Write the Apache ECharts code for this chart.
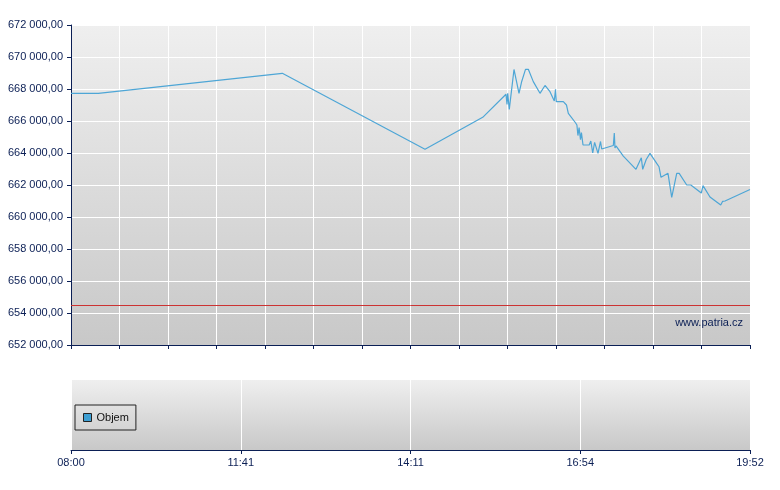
<!DOCTYPE html>
<html>
<head>
<meta charset="utf-8">
<script src="https://cdn.jsdelivr.net/npm/echarts@6/dist/echarts.min.js"></script>
<style>html,body{margin:0;padding:0;background:#fff}#c{width:780px;height:490px}</style>
</head>
<body>
<div id="c"></div>
<script>
// x positions in grid-interval units (0..14), y values of the index
var xPos = [0, 0.563, 4.357, 7.299, 8.489, 8.969, 8.990, 9.004, 9.037, 9.134, 9.237, 9.293, 9.371, 9.429, 9.532, 9.670, 9.773, 9.876, 9.965, 9.990, 10.006, 10.151, 10.186, 10.216, 10.254, 10.402, 10.431, 10.452, 10.476, 10.505, 10.524, 10.557, 10.684, 10.718, 10.757, 10.796, 10.866, 10.918, 10.942, 11.182, 11.202, 11.216, 11.237, 11.388, 11.649, 11.759, 11.788, 11.860, 11.938, 12.087, 12.124, 12.165, 12.309, 12.386, 12.489, 12.540, 12.695, 12.780, 12.996, 13.031, 13.175, 13.396, 13.437, 13.485, 14];
var values = [667730, 667730, 668980, 664230, 666230, 667670, 667040, 667730, 666730, 669220, 667730, 668470, 669230, 669230, 668460, 667730, 668220, 667830, 667250, 667980, 667210, 667210, 667250, 667000, 666480, 665890, 665750, 665090, 665590, 664840, 665280, 664500, 664500, 664750, 664000, 664660, 663980, 664720, 664250, 664470, 665250, 664310, 664440, 663810, 662980, 663700, 662980, 663590, 663980, 663300, 663140, 662480, 662730, 661230, 662730, 662730, 662000, 662000, 661500, 661960, 661250, 660750, 660980, 661000, 661720];
var referenceLevel = 654500;
var timeLabels = ["08:00", "11:41", "14:11", "16:54", "19:52"];
var volumeName = "Objem";
var volumeValues = [];
var watermark = "www.patria.cz";

var navy = '#0b1f55';
var font = 'Arial, "Liberation Sans", sans-serif';
function bg() {
  return new echarts.graphic.LinearGradient(0, 0, 0, 1, [
    {offset: 0, color: '#efefef'}, {offset: 1, color: '#c8c8c8'}
  ]);
}
function fmt(v) {
  var s = String(Math.round(v));
  return s.replace(/\B(?=(\d{3})+(?!\d))/g, ' ') + ',00';
}
var lineData = xPos.map(function (x, i) { return [x, values[i]]; });

var chart = echarts.init(document.getElementById('c'), null, {renderer: 'canvas'});
chart.setOption({
  animation: false,
  textStyle: {fontFamily: font},
  grid: [
    {left: 71, right: 30, top: 25, height: 320, show: true, borderWidth: 0, backgroundColor: bg()},
    {left: 71, right: 30, top: 380, height: 70, show: true, borderWidth: 0, backgroundColor: bg()}
  ],
  legend: {
    data: [volumeName],
    left: 75, top: 405,
    orient: 'vertical',
    padding: [7, 7, 7, 8],
    borderColor: '#222', borderWidth: 1, borderRadius: 0,
    icon: 'rect', itemWidth: 8, itemHeight: 8,
    itemStyle: {borderColor: '#222', borderWidth: 1},
    textStyle: {color: '#111', fontSize: 11, fontFamily: font},
    selectedMode: false
  },
  xAxis: [
    {gridIndex: 0, type: 'value', min: 0, max: 14, interval: 1,
     axisLine: {show: true, onZero: false, lineStyle: {color: navy, width: 1}},
     axisTick: {show: true, length: 4, lineStyle: {color: navy}},
     axisLabel: {show: false},
     splitLine: {show: true, lineStyle: {color: '#ffffff', width: 1}}},
    {gridIndex: 1, type: 'value', min: 0, max: 4, interval: 1,
     axisLine: {show: true, onZero: false, lineStyle: {color: navy, width: 1}},
     axisTick: {show: true, length: 4, lineStyle: {color: navy}},
     axisLabel: {color: navy, fontSize: 11, fontFamily: font, margin: 7,
                 formatter: function (v) { return timeLabels[Math.round(v)] || ''; }},
     splitLine: {show: true, lineStyle: {color: '#ffffff', width: 1}}}
  ],
  yAxis: [
    {gridIndex: 0, type: 'value', min: 652000, max: 672000, interval: 2000,
     axisLine: {show: true, lineStyle: {color: navy, width: 1}},
     axisTick: {show: true, length: 4, lineStyle: {color: navy}},
     axisLabel: {color: navy, fontSize: 11, fontFamily: font, margin: 8, formatter: fmt},
     splitLine: {show: true, lineStyle: {color: '#ffffff', width: 1}}},
    {gridIndex: 1, type: 'value', show: false, min: 0, max: 1}
  ],
  series: [
    {type: 'line', xAxisIndex: 0, yAxisIndex: 0, data: lineData, showSymbol: false,
     symbol: 'none', lineStyle: {color: '#4ea6d6', width: 1.2}, itemStyle: {color: '#4ea6d6'},
     markLine: {silent: true, symbol: 'none', label: {show: false},
                lineStyle: {color: '#cc3333', width: 1, type: 'solid'},
                data: [{yAxis: referenceLevel}]}},
    {type: 'bar', name: volumeName, xAxisIndex: 1, yAxisIndex: 1, data: volumeValues,
     itemStyle: {color: '#3d9fd3', borderColor: '#222', borderWidth: 1}}
  ],
  graphic: [
    {type: 'text', right: 37, top: 317,
     style: {text: watermark, fill: navy, font: '11px ' + font}}
  ]
});
</script>
</body>
</html>
